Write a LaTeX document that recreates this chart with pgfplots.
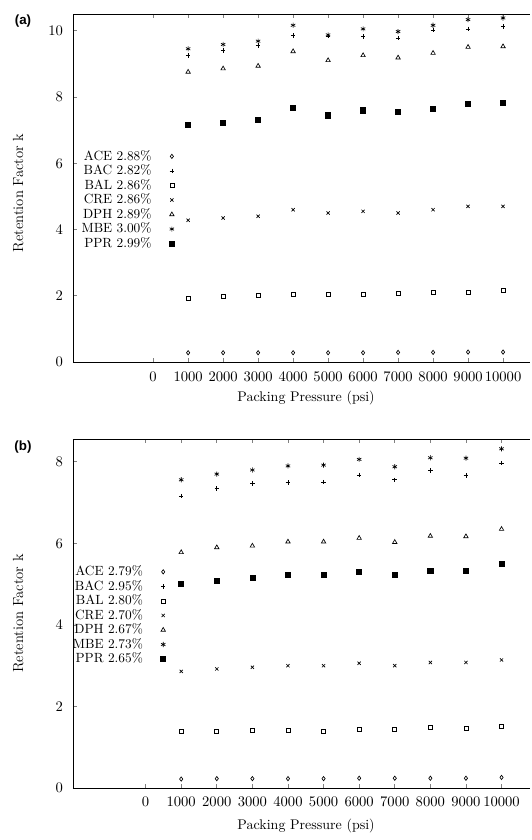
\documentclass[border=0pt]{standalone}
\usepackage{fontspec}
\newfontfamily\helv{Liberation Sans}
\usepackage{pgfplots}
\usepackage{pgfplotstable}
\pgfplotsset{compat=1.18}

% panel (a)
\pgfplotstableread{
x     ACE  BAC   BAL  CRE  DPH  MBE   PPR
1000  0.28 9.26  1.92 4.28 8.76 9.46  7.15
2000  0.28 9.41  1.97 4.35 8.86 9.59  7.22
3000  0.28 9.56  2.00 4.40 8.94 9.69  7.32
4000  0.28 9.86  2.04 4.60 9.38 10.17 7.68
5000  0.28 9.85  2.04 4.50 9.11 9.88  7.45
6000  0.28 9.83  2.04 4.55 9.26 10.06 7.60
7000  0.29 9.78  2.07 4.50 9.19 9.98  7.55
8000  0.29 10.03 2.09 4.60 9.33 10.17 7.65
9000  0.30 10.06 2.09 4.70 9.51 10.34 7.80
10000 0.30 10.13 2.15 4.70 9.53 10.39 7.83
}\tabA

% panel (b)
\pgfplotstableread{
x     ACE  BAC  BAL  CRE  DPH  MBE  PPR
1000  0.22 7.16 1.38 2.86 5.78 7.56 5.00
2000  0.23 7.34 1.40 2.92 5.90 7.70 5.09
3000  0.23 7.47 1.41 2.96 5.94 7.80 5.16
4000  0.23 7.49 1.42 3.00 6.04 7.90 5.23
5000  0.23 7.50 1.40 3.00 6.04 7.92 5.23
6000  0.24 7.68 1.45 3.06 6.13 8.06 5.31
7000  0.24 7.56 1.45 3.00 6.03 7.88 5.22
8000  0.24 7.79 1.48 3.08 6.18 8.10 5.33
9000  0.24 7.66 1.46 3.08 6.17 8.09 5.33
10000 0.26 7.97 1.52 3.14 6.35 8.32 5.50
}\tabB

\pgfplotsset{
  retstyle/.style={
    scale only axis, width=342.75pt, height=261pt,
    axis x line*=box, axis y line*=left,
    axis line style={line width=0.6pt},
    tick align=inside, major tick length=3pt,
    tick style={line width=0.6pt},
    xtick={0,1000,...,10000},
    scaled x ticks=false,
    xticklabel style={/pgf/number format/1000 sep={}, font=\fontsize{10.5}{12}\selectfont},
    yticklabel style={font=\fontsize{10.5}{12}\selectfont, xshift=-4pt},
    ymin=0,
    xlabel={Packing Pressure (psi)},
    ylabel={Retention Factor k},
    xlabel style={at={(axis description cs:0.51,0)}, anchor=center, font=\fontsize{10.5}{12}\selectfont},
    ylabel style={font=\fontsize{11}{13}\selectfont, anchor=center},
    legend plot pos=right,
    legend cell align=right,
    legend style={draw=none, fill=none, inner sep=0pt, row sep=0.4pt,
      font=\fontsize{10}{12}\selectfont,
      nodes={inner sep=1pt, text height=7pt, text depth=1.5pt}},
    every axis plot/.append style={only marks, black, line width=0.5pt,
      legend image code/.code={\path (-14pt,0pt) (14pt,0pt); \draw[##1] plot coordinates {(0pt,0pt)};}},
  },
  mACE/.style={mark=diamond, mark size=1.6pt, mark options={fill=white}},
  mBAC/.style={mark=+, mark size=1.7pt},
  mBAL/.style={mark=square, mark size=1.5pt, mark options={fill=white}},
  mCRE/.style={mark=x, mark size=1.7pt},
  mDPH/.style={mark=triangle, mark size=1.9pt, mark options={fill=white}},
  mMBE/.style={mark=asterisk, mark size=1.9pt},
  mPPR/.style={mark=square*, mark size=1.9pt},
}

\begin{document}
\begin{tikzpicture}
\useasboundingbox (0,0) rectangle (399pt,-630pt);

\begin{axis}[retstyle, name=a,
  at={(54.75pt,-10.5pt)}, anchor=north west,
  xmin=-2290, xmax=10770, ymax=10.51,
  ytick={0,2,...,10},
  xticklabel shift=4pt,
  xlabel style={yshift=-27pt},
  ylabel style={at={(axis description cs:-0.12,0.486)}},
  legend style={at={(axis cs:1086,6.43)}, anchor=north east},
]
\addplot[mACE] table[x=x,y=ACE]{\tabA};
\addplot[mBAC] table[x=x,y=BAC]{\tabA};
\addplot[mBAL] table[x=x,y=BAL]{\tabA};
\addplot[mCRE] table[x=x,y=CRE]{\tabA};
\addplot[mDPH] table[x=x,y=DPH]{\tabA};
\addplot[mMBE] table[x=x,y=MBE]{\tabA};
\addplot[mPPR] table[x=x,y=PPR]{\tabA};
\legend{ACE 2.88\%, BAC 2.82\%, BAL 2.86\%, CRE 2.86\%, DPH 2.89\%, MBE 3.00\%, PPR 2.99\%}
\end{axis}
\node[font={\helv\bfseries\fontsize{10}{12}\selectfont}, xshift=-37.5pt, yshift=-5.6pt] at (a.north west) {(a)};

\begin{axis}[retstyle, name=b,
  at={(54.75pt,-329.25pt)}, anchor=north west, height=261.75pt,
  xmin=-2040, xmax=10800, ymax=8.56,
  ytick={0,2,...,8},
  xticklabel shift=3pt,
  xlabel style={yshift=-28.5pt},
  ylabel style={at={(axis description cs:-0.12,0.5)}},
  legend style={at={(axis cs:1036,5.48)}, anchor=north east},
]
\addplot[mACE] table[x=x,y=ACE]{\tabB};
\addplot[mBAC] table[x=x,y=BAC]{\tabB};
\addplot[mBAL] table[x=x,y=BAL]{\tabB};
\addplot[mCRE] table[x=x,y=CRE]{\tabB};
\addplot[mDPH] table[x=x,y=DPH]{\tabB};
\addplot[mMBE] table[x=x,y=MBE]{\tabB};
\addplot[mPPR] table[x=x,y=PPR]{\tabB};
\legend{ACE 2.79\%, BAC 2.95\%, BAL 2.80\%, CRE 2.70\%, DPH 2.67\%, MBE 2.73\%, PPR 2.65\%}
\end{axis}
\node[font={\helv\bfseries\fontsize{10}{12}\selectfont}, xshift=-37.5pt, yshift=-6pt] at (b.north west) {(b)};
\end{tikzpicture}
\end{document}
